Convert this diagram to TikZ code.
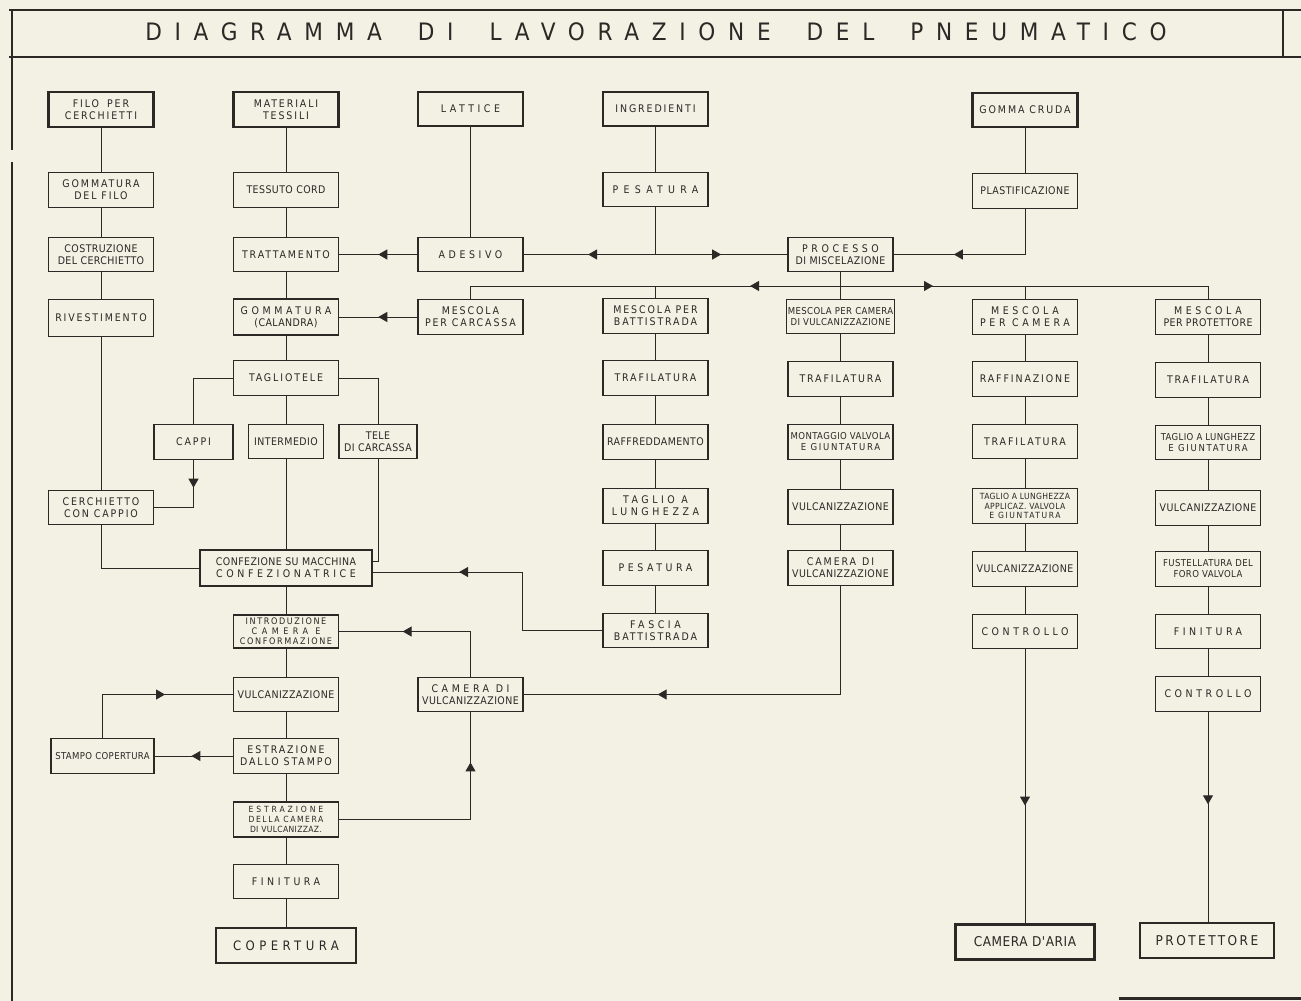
\documentclass[tikz,border=0pt]{standalone}
\usepackage{fontspec}
\usetikzlibrary{arrows.meta,decorations.markings,positioning}
\definecolor{ink}{HTML}{2B2826}
\definecolor{paper}{HTML}{F3F0E4}
\newfontfamily\normfont[LetterSpace=4]{DejaVu Sans Condensed}
\newfontfamily\spacedfont[LetterSpace=18]{DejaVu Sans Condensed}
\newfontfamily\widefont[LetterSpace=34]{DejaVu Sans Condensed}
\newfontfamily\xwidefont[LetterSpace=50]{DejaVu Sans Condensed}
\newfontfamily\titlefont[LetterSpace=53]{DejaVu Sans Condensed}
\newcommand\titlegap{\hspace{36pt}}

\tikzset{
	box/.style={draw=ink, line width=1.2pt, minimum width=105pt, minimum height=34.5pt,
		inner sep=1pt, align=center, text=ink, normtxt},
	srcbox/.style={box, line width=2.3pt},
	normtxt/.style={font=\normfont\fontsize{10.5}{12}\selectfont},
	spacedtxt/.style={font=\spacedfont\fontsize{10.5}{12}\selectfont},
	widetxt/.style={font=\widefont\fontsize{10.5}{12}\selectfont},
	xwidetxt/.style={font=\xwidefont\fontsize{10.5}{12}\selectfont},
	smalltxt/.style={font=\normfont\fontsize{9.5}{11}\selectfont},
	tinytxt/.style={font=\normfont\fontsize{8.5}{9.6}\selectfont},
	link/.style={draw=ink, line width=1pt},
	flow/.style={link, postaction={decorate},
		decoration={markings, mark=at position #1 with {\arrow{Triangle[length=9pt,width=10pt]}}}},
}

\begin{document}
\begin{tikzpicture}[x=1pt, y=-1pt]
	\fill[paper] (0,0) rectangle (1301,1001);
	\useasboundingbox (0,0) rectangle (1301,1001);
	
	% frame and title
	\draw[ink, line width=2pt] (9,10) -- (1301,10) (9,57) -- (1301,57);
	\draw[ink, line width=1.3pt] (12,10) -- (12,150) (12,162) -- (12,1001);
	\draw[ink, line width=1.3pt] (1283,10) -- (1283,57);
	\draw[ink, line width=3pt] (1119,998) -- (1301,998);
	\node[text=ink, font=\titlefont\fontsize{24}{26}\selectfont] (title) at (656,32)
		{DIAGRAMMA\titlegap DI\titlegap LAVORAZIONE\titlegap DEL\titlegap PNEUMATICO};
	
	% cerchietti
	\node[srcbox, spacedtxt] (filo) at (101,109.5) {FILO\hspace{8pt}PER\\CERCHIETTI};
	\node[box, spacedtxt] (gomfilo) at (101,190) {GOMMATURA\\DEL FILO};
	\node[box] (costr) at (101,254.5) {COSTRUZIONE\\DEL CERCHIETTO};
	\node[box, spacedtxt, minimum height=37pt] (rivest) at (101,318) {RIVESTIMENTO};
	\node[box, spacedtxt] (cerchio) at (101,507.5) {CERCHIETTO\\CON CAPPIO};
	\node[box, minimum width=103pt, smalltxt] (stampo) at (102.5,756) {STAMPO COPERTURA};
	
	% tessili e copertura
	\node[srcbox, spacedtxt] (mater) at (286,109.5) {MATERIALI\\TESSILI};
	\node[box] (tessuto) at (286,190) {TESSUTO CORD};
	\node[box, spacedtxt] (tratt) at (286,254.5) {TRATTAMENTO};
	\node[box, minimum height=36pt] (gomcal) at (286,317) {{\widefont GOMMATURA}\\(CALANDRA)};
	\node[box, spacedtxt] (taglio) at (286,378) {TAGLIOTELE};
	\node[box, spacedtxt, minimum width=79pt] (cappi) at (193.5,442) {CAPPI};
	\node[box, minimum width=75pt] (interm) at (286,441.5) {INTERMEDIO};
	\node[box, minimum width=78pt] (tele) at (378,441.5) {TELE\\DI CARCASSA};
	\node[box, minimum width=172pt, minimum height=36pt] (confez) at (286,568)
		{CONFEZIONE SU MACCHINA\\{\widefont CONFEZIONATRICE}};
	\node[box, minimum height=33pt, font=\spacedfont\fontsize{9}{10}\selectfont] (intro) at (286,631.5)
		{INTRODUZIONE\\{\xwidefont CAMERA E}\\CONFORMAZIONE};
	\node[box] (vulc) at (286,694.5) {VULCANIZZAZIONE};
	\node[box, spacedtxt] (estrst) at (286,756) {ESTRAZIONE\\DALLO STAMPO};
	\node[box, minimum height=35pt, font=\normfont\fontsize{8.5}{9.8}\selectfont] (estrcam) at (286,819.5)
		{{\widefont ESTRAZIONE}\\{\spacedfont DELLA CAMERA}\\DI VULCANIZZAZ.};
	\node[box, widetxt] (finit) at (286,881.5) {FINITURA};
	\node[srcbox, minimum width=140pt, minimum height=35pt, font=\widefont\fontsize{13}{15}\selectfont]
		(copert) at (286,945.5) {COPERTURA};
	
	% lattice
	\node[srcbox, widetxt] (latt) at (470.5,109) {LATTICE};
	\node[box, widetxt] (adesivo) at (470.5,254.5) {ADESIVO};
	\node[box, spacedtxt] (mescarc) at (470.5,317) {MESCOLA\\PER CARCASSA};
	\node[box] (camvulcB) at (470.5,694.5) {{\widefont CAMERA DI}\\VULCANIZZAZIONE};
	
	% ingredienti e battistrada
	\node[srcbox, spacedtxt] (ingred) at (655.5,109) {INGREDIENTI};
	\node[box, xwidetxt] (pesaA) at (655.5,189.5) {PESATURA};
	\node[box, spacedtxt] (mesbatt) at (655.5,316) {MESCOLA PER\\BATTISTRADA};
	\node[box, spacedtxt] (trafA) at (655.5,378) {TRAFILATURA};
	\node[box] (raffr) at (655.5,442) {RAFFREDDAMENTO};
	\node[box, widetxt] (taglA) at (655.5,506) {TAGLIO A\\LUNGHEZZA};
	\node[box, widetxt] (pesaB) at (655.5,568) {PESATURA};
	\node[box, spacedtxt] (fascia) at (655.5,630.5) {{\widefont FASCIA}\\BATTISTRADA};
	
	% camera di vulcanizzazione
	\node[box] (proc) at (840.5,254.5) {{\widefont PROCESSO}\\DI MISCELAZIONE};
	\node[box, smalltxt] (mescam) at (840.5,316.5) {MESCOLA PER CAMERA\\DI VULCANIZZAZIONE};
	\node[box, spacedtxt] (trafB) at (840.5,379) {TRAFILATURA};
	\node[box, smalltxt] (montag) at (840.5,442) {MONTAGGIO VALVOLA\\{\spacedfont E GIUNTATURA}};
	\node[box] (vulcB) at (840.5,507) {VULCANIZZAZIONE};
	\node[box] (camvulcA) at (840.5,568) {{\spacedfont CAMERA\hspace{6pt}DI}\\VULCANIZZAZIONE};
	
	% camera d'aria
	\node[srcbox, spacedtxt] (gomma) at (1025,110) {GOMMA CRUDA};
	\node[box] (plast) at (1025,191) {PLASTIFICAZIONE};
	\node[box, widetxt] (mescamF) at (1025,317) {MESCOLA\\PER CAMERA};
	\node[box, spacedtxt] (raffin) at (1025,379) {RAFFINAZIONE};
	\node[box, spacedtxt] (trafC) at (1025,441.5) {TRAFILATURA};
	\node[box, tinytxt] (taglvalv) at (1025,506)
		{TAGLIO A LUNGHEZZA\\APPLICAZ. VALVOLA\\{\spacedfont E GIUNTATURA}};
	\node[box] (vulcC) at (1025,569) {VULCANIZZAZIONE};
	\node[box, widetxt] (contrA) at (1025,631.5) {CONTROLLO};
	\node[srcbox, minimum width=139pt, minimum height=35pt, font=\normfont\fontsize{13.5}{15}\selectfont]
		(camaria) at (1025,942) {CAMERA D'ARIA};
	
	% protettore
	\node[box] (mesprot) at (1208,317) {{\widefont MESCOLA}\\PER PROTETTORE};
	\node[box, spacedtxt] (trafD) at (1208,380) {TRAFILATURA};
	\node[box, smalltxt] (taglgiu) at (1208,442.5) {TAGLIO A LUNGHEZZ\\{\spacedfont E GIUNTATURA}};
	\node[box] (vulcD) at (1208,508) {VULCANIZZAZIONE};
	\node[box, smalltxt] (fustel) at (1208,569) {FUSTELLATURA DEL\\FORO VALVOLA};
	\node[box, widetxt] (finitD) at (1208,631.5) {FINITURA};
	\node[box, widetxt] (contrB) at (1208,694) {CONTROLLO};
	\node[srcbox, minimum width=134pt, minimum height=35pt, font=\spacedfont\fontsize{13.5}{15}\selectfont]
		(protet) at (1207,940.5) {PROTETTORE};
	
	\coordinate (bus) at (840.5,286);
	\coordinate (bendfascia) at (522,572);
	
	% straight chains
	\foreach \a/\b in {filo/gomfilo, gomfilo/costr, costr/rivest, rivest/cerchio,
		mater/tessuto, tessuto/tratt, tratt/gomcal, gomcal/taglio, taglio/interm, interm/confez,
		confez/intro, intro/vulc, vulc/estrst, estrst/estrcam, estrcam/finit, finit/copert,
		latt/adesivo, ingred/pesaA,
		mesbatt/trafA, trafA/raffr, raffr/taglA, taglA/pesaB, pesaB/fascia,
		proc/mescam, mescam/trafB, trafB/montag, montag/vulcB, vulcB/camvulcA,
		gomma/plast, mescamF/raffin, raffin/trafC, trafC/taglvalv, taglvalv/vulcC, vulcC/contrA,
		mesprot/trafD, trafD/taglgiu, taglgiu/vulcD, vulcD/fustel, fustel/finitD, finitD/contrB}
		\draw[link] (\a.south) -- (\b.north);
	
	% branches
	\draw[link] (taglio.west) -| (cappi.north);
	\draw[link] (taglio.east) -| (tele.north);
	\draw[flow=0.32] (cappi.south) |- (cerchio.east);
	\draw[link] (cerchio.south) |- (confez.west);
	\draw[link] (tele.south) |- ([yshift=7pt]confez.east);
	\draw[flow=0.7] (fascia.west) -| (bendfascia) -- (confez.east |- bendfascia);
	\draw[flow=0.64] (camvulcB.north) |- (intro.east);
	\draw[flow=0.685] (camvulcA.south) |- (camvulcB.east);
	\draw[flow=0.79] (estrcam.east) -| (camvulcB.south);
	\draw[flow=0.61] (stampo.north) |- (vulc.west);
	\draw[flow=0.53] (estrst.west) -- (stampo.east);
	
	\draw[flow=0.5] (adesivo.west) -- (tratt.east);
	\draw[flow=0.5] (mescarc.west) -- (gomcal.east);
	\draw[flow=0.64] (pesaA.south) |- (adesivo.east);
	\draw[flow=0.63] (pesaA.south) |- (proc.west);
	\draw[flow=0.66] (plast.south) |- (proc.east);
	
	\draw[flow=0.236] (bus) -| (mescarc.north);
	\draw[link] (bus) -| (mesbatt.north);
	\draw[link] (bus) -| (mescamF.north);
	\draw[flow=0.243] (bus) -| (mesprot.north);
	
	\draw[flow=0.57] (contrA.south) -- (camaria.north);
	\draw[flow=0.44] (contrB.south) -- (contrB.south |- protet.north);
\end{tikzpicture}
\end{document}
